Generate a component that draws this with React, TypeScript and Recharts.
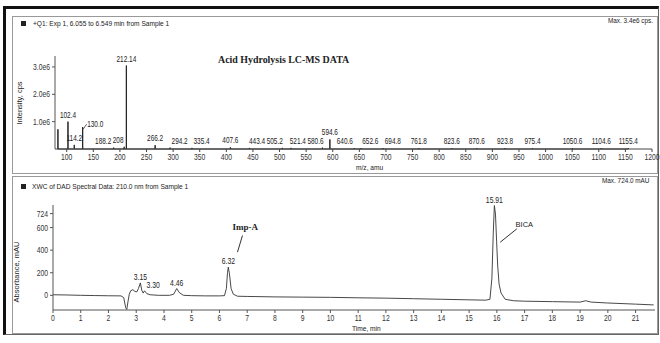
import {
  ComposedChart,
  Line,
  XAxis,
  YAxis,
  LabelList,
  ReferenceLine,
  ReferenceDot,
} from "recharts";

const SANS = "'Liberation Sans', Arial, sans-serif";
const SERIF = "'Liberation Serif', 'Times New Roman', serif";

// mass spectrum (+Q1 scan), m/z and intensity in cps
const msMz = [
  83.5, 102.4, 114.2, 130.0, 188.2, 208.0, 212.14, 266.2, 294.2, 335.4, 407.6,
  443.4, 505.2, 521.4, 580.6, 594.6, 640.6, 652.6, 694.8, 761.8, 823.6, 870.6,
  923.8, 975.4, 1050.6, 1104.6, 1155.4,
];
const msIntensity = [
  0.72e6, 1.0e6, 0.15e6, 0.8e6, 0.05e6, 0.08e6, 3.05e6, 0.14e6, 0.05e6, 0.04e6,
  0.06e6, 0.04e6, 0.04e6, 0.04e6, 0.05e6, 0.35e6, 0.03e6, 0.03e6, 0.03e6,
  0.03e6, 0.03e6, 0.03e6, 0.03e6, 0.03e6, 0.03e6, 0.03e6, 0.03e6,
];
const msPeakLabels = [
  "", "102.4", "114.2", "130.0", "188.2", "208", "212.14", "266.2", "294.2",
  "335.4", "407.6", "443.4", "505.2", "521.4", "580.6", "594.6", "640.6",
  "652.6", "694.8", "761.8", "823.6", "870.6", "923.8", "975.4", "1050.6",
  "1104.6", "1155.4",
];
const msXTicks = [
  100, 150, 200, 250, 300, 350, 400, 450, 500, 550, 600, 650, 700, 750, 800,
  850, 900, 950, 1000, 1050, 1100, 1150, 1200,
];
const msYTicks = [1e6, 2e6, 3e6];

// DAD chromatogram at 210 nm, time in min and absorbance in mAU
const lcTime = [
  0, 0.5, 1.0, 1.5, 2.0, 2.45, 2.55, 2.62, 2.66, 2.7, 2.75, 2.8, 2.88, 2.95,
  3.02, 3.08, 3.15, 3.2, 3.25, 3.3, 3.38, 3.5, 3.8, 4.2, 4.35, 4.46, 4.55, 4.7,
  5.0, 5.5, 6.0, 6.18, 6.25, 6.29, 6.32, 6.36, 6.42, 6.5, 6.65, 7.0, 8.0, 9.0,
  10.0, 11.0, 12.0, 13.0, 14.0, 15.0, 15.6, 15.75, 15.82, 15.87, 15.91, 15.95,
  15.99, 16.03, 16.08, 16.15, 16.3, 16.6, 17.0, 18.0, 19.0, 19.2, 19.4, 20.0,
  21.0, 21.65,
];
const lcAbsorbance = [
  5, 3, 0, -2, -4, -5, -20, -110, -125, -60, 10, 40, 50, 35, 30, 60, 110, 45,
  20, 40, 15, 5, 0, 0, 10, 60, 25, 0, -3, -5, -5, -3, 60, 200, 250, 190, 60,
  10, -8, -10, -14, -16, -18, -22, -25, -30, -35, -40, -43, -35, 150, 550, 795,
  720, 480, 260, 100, 20, -35, -48, -52, -56, -60, -48, -60, -68, -78, -85,
];
const lcPeakTimes = [3.15, 3.3, 4.46, 6.32, 15.91];
const lcPeakLabels = ["3.15", "3.30", "4.46", "6.32", "15.91"];
const lcXTicks = [
  0, 1, 2, 3, 4, 5, 6, 7, 8, 9, 10, 11, 12, 13, 14, 15, 16, 17, 18, 19, 20, 21,
];
const lcYTicks = [0, 200, 400, 600, 724];

// layout of the spectrum panel
const MS_DOMAIN = [78, 1200];
const MS_Y_W = 55;
const MS_RIGHT = 8;
const MS_W = 660;
const LABEL_FONT = 8.5;
const LABEL_SCALE = 0.76;

const msSticks = msMz.flatMap((mz, i) => [
  { mz, intensity: 0 },
  { mz, intensity: msIntensity[i], label: msPeakLabels[i], peak: i },
  { mz, intensity: 0 },
]);

const lcRows = lcTime.map((t, i) => {
  const p = lcPeakTimes.indexOf(t);
  return { t, abs: lcAbsorbance[i], label: p >= 0 ? lcPeakLabels[p] : undefined, peak: p };
});

// spread the small baseline labels so they don't run into each other
const isLow = (i: number) => msIntensity[i] < 0.3e6;
const textW = (s: string) =>
  [...s].reduce((w, c) => w + (c === "." ? 0.278 : 0.556), 0) * LABEL_FONT * LABEL_SCALE;
const msLabelShift: number[] = (() => {
  const pxPerAmu = (MS_W - MS_Y_W - MS_RIGHT) / (MS_DOMAIN[1] - MS_DOMAIN[0]);
  const boxes: { i: number; left: number; w: number; x: number }[] = [];
  msMz.forEach((mz, i) => {
    if (!msPeakLabels[i] || !isLow(i)) return;
    const x = mz * pxPerAmu;
    const w = textW(msPeakLabels[i]);
    const next = i + 1 < msMz.length ? msMz[i + 1] - mz : Infinity;
    const prev = i > 0 ? mz - msMz[i - 1] : Infinity;
    let left = x - w / 2;
    if (next < 20 && prev > 12) left = x - w - 1.5;
    else if (prev < 45 && next >= 20) left = x + 1.5;
    boxes.push({ i, left, w, x });
  });
  for (let it = 0; it < 30; it++) {
    for (let j = 1; j < boxes.length; j++) {
      const a = boxes[j - 1];
      const b = boxes[j];
      const over = a.left + a.w + 1.5 - b.left;
      if (over > 0) {
        a.left -= over / 2;
        b.left += over / 2;
      }
    }
  }
  const shift = msMz.map(() => 0);
  boxes.forEach((b) => (shift[b.i] = b.left + b.w / 2 - b.x));
  return shift;
})();

// a tall labelled peak close behind another tall labelled one gets its label on the side
const besideStick = (i: number) => {
  if (isLow(i)) return false;
  for (let k = i - 1; k >= 0; k--) {
    if (msPeakLabels[k] && !isLow(k)) return msMz[i] - msMz[k] < 40;
  }
  return false;
};

function NarrowTick({ x, y, payload, textAnchor, verticalAnchor, fmt }: any) {
  const dy = verticalAnchor === "start" ? "0.75em" : "0.35em";
  return (
    <text
      transform={`translate(${x},${y}) scale(0.8,1)`}
      textAnchor={textAnchor}
      dy={dy}
      fontSize={8.5}
      fill="#333"
      fontFamily={SANS}
    >
      {fmt ? fmt(payload.value) : payload.value}
    </text>
  );
}

const fmtE6 = (v: number) => (v / 1e6).toFixed(1) + "e6";

function MsPeakLabel(props: any) {
  const { x, y, value, index } = props;
  if (!value) return null;
  const i = msSticks[index].peak as number;
  if (besideStick(i)) {
    return (
      <g>
        <line x1={x + 0.5} y1={y + 2} x2={x + 4} y2={y - 3} stroke="#333" strokeWidth={0.8} />
        <text
          transform={`translate(${x + 4.5},${y}) scale(${LABEL_SCALE},1)`}
          fontSize={LABEL_FONT}
          fill="#222"
          fontFamily={SANS}
        >
          {value}
        </text>
      </g>
    );
  }
  return (
    <text
      transform={`translate(${x + msLabelShift[i]},${y - 4}) scale(${LABEL_SCALE},1)`}
      textAnchor="middle"
      fontSize={LABEL_FONT}
      fill="#222"
      fontFamily={SANS}
    >
      {value}
    </text>
  );
}

function LcPeakLabel(props: any) {
  const { x, y, value, index } = props;
  if (!value) return null;
  const p = lcRows[index].peak;
  const close = p > 0 && lcPeakTimes[p] - lcPeakTimes[p - 1] < 0.3;
  return (
    <text
      transform={`translate(${x + (close ? 2 : 0)},${y - 3}) scale(0.8,1)`}
      textAnchor={close ? "start" : "middle"}
      fontSize={8.5}
      fill="#222"
      fontFamily={SANS}
    >
      {value}
    </text>
  );
}

const small: React.CSSProperties = {
  position: "absolute",
  fontFamily: SANS,
  fontSize: 7.5,
  color: "#222",
  whiteSpace: "nowrap",
  transformOrigin: "left center",
  lineHeight: 1,
};

export default function App() {
  return (
    <div style={{ position: "relative", width: 660, height: 343, background: "#fff", overflow: "hidden" }}>
      <style>{"body{margin:0}"}</style>
      {/* page frame */}
      <div
        style={{
          position: "absolute",
          left: 3,
          top: 6,
          width: 652,
          height: 325,
          borderTop: "3px solid #111",
          borderLeft: "3px solid #111",
          borderRight: "1px solid #666",
          borderBottom: "1px solid #666",
        }}
      />
      <div style={{ position: "absolute", left: 12, top: 16, width: 644, height: 156, border: "1px solid #999" }} />
      <div style={{ position: "absolute", left: 12, top: 176, width: 644, height: 156, border: "1px solid #999" }} />

      {/* mass spectrum */}
      <div style={{ position: "absolute", left: 0, top: 0 }}>
        <ComposedChart
          width={MS_W}
          height={175}
          data={msSticks}
          margin={{ top: 56, right: MS_RIGHT, bottom: 10, left: 0 }}
        >
          <XAxis
            dataKey="mz"
            type="number"
            domain={MS_DOMAIN}
            ticks={msXTicks}
            interval={0}
            height={16}
            tickSize={3}
            stroke="#444"
            tick={(p: any) => <NarrowTick {...p} />}
          />
          <YAxis
            type="number"
            domain={[0, 3.4e6]}
            ticks={msYTicks}
            width={MS_Y_W}
            tickSize={3}
            stroke="#555"
            tick={(p: any) => <NarrowTick {...p} fmt={fmtE6} />}
          />
          <Line
            dataKey="intensity"
            type="linear"
            stroke="#222"
            strokeWidth={1}
            dot={false}
            isAnimationActive={false}
          >
            <LabelList dataKey="label" content={MsPeakLabel} />
          </Line>
        </ComposedChart>
      </div>

      {/* chromatogram */}
      <div style={{ position: "absolute", left: 0, top: 170 }}>
        <ComposedChart width={660} height={165} data={lcRows} margin={{ top: 35, right: 5, bottom: 9, left: 0 }}>
          <XAxis
            dataKey="t"
            type="number"
            domain={[0, 21.7]}
            ticks={lcXTicks}
            interval={0}
            height={16}
            tickSize={3}
            stroke="#555"
            tick={(p: any) => <NarrowTick {...p} />}
          />
          <YAxis
            type="number"
            domain={[-130, 800]}
            ticks={lcYTicks}
            interval={0}
            width={53}
            tickSize={3}
            stroke="#555"
            tick={(p: any) => <NarrowTick {...p} />}
          />
          <ReferenceLine segment={[{ x: 6.83, y: 530 }, { x: 6.65, y: 382 }]} stroke="#333" />
          <ReferenceLine segment={[{ x: 16.12, y: 470 }, { x: 16.72, y: 589 }]} stroke="#333" />
          <ReferenceDot
            x={6.93}
            y={605}
            r={0}
            stroke="none"
            label={{ value: "Imp-A", position: "center", fontSize: 9, fontFamily: SERIF, fontWeight: 700, fill: "#222" }}
          />
          <ReferenceDot
            x={16.99}
            y={627}
            r={0}
            stroke="none"
            label={{ value: "BICA", position: "center", fontSize: 7.5, fontFamily: SANS, fill: "#222" }}
          />
          <Line
            dataKey="abs"
            type="linear"
            stroke="#333"
            strokeWidth={0.9}
            dot={false}
            isAnimationActive={false}
          >
            <LabelList dataKey="label" content={LcPeakLabel} />
          </Line>
        </ComposedChart>
      </div>

      {/* texts */}
      <div style={{ position: "absolute", left: 21, top: 21, width: 5, height: 5, background: "#222" }} />
      <div style={{ ...small, left: 33, top: 20, transform: "scaleX(0.88)" }}>
        +Q1: Exp 1, 6.055 to 6.549 min from Sample 1
      </div>
      <div style={{ ...small, left: 608, top: 17, transform: "scaleX(0.85)" }}>Max. 3.4e6 cps.</div>
      <div
        style={{
          position: "absolute",
          left: 218,
          top: 54,
          fontFamily: SERIF,
          fontWeight: 700,
          fontSize: 11,
          color: "#222",
          whiteSpace: "nowrap",
          lineHeight: 1,
          transform: "scaleX(0.9)",
          transformOrigin: "left center",
        }}
      >
        Acid Hydrolysis LC-MS DATA
      </div>
      <div
        style={{
          ...small,
          left: 20,
          top: 103,
          transformOrigin: "center center",
          transform: "translate(-50%,-50%) rotate(-90deg)",
        }}
      >
        Intensity, cps
      </div>
      <div style={{ ...small, left: 356, top: 164, transform: "scaleX(0.88)" }}>m/z, amu</div>

      <div style={{ position: "absolute", left: 21, top: 184, width: 5, height: 5, background: "#222" }} />
      <div style={{ ...small, left: 32, top: 183, transform: "scaleX(0.88)" }}>
        XWC of DAD Spectral Data: 210.0 nm from Sample 1
      </div>
      <div style={{ ...small, left: 602, top: 177, transform: "scaleX(0.85)" }}>Max. 724.0 mAU</div>
      <div
        style={{
          ...small,
          left: 17,
          top: 272,
          transformOrigin: "center center",
          transform: "translate(-50%,-50%) rotate(-90deg)",
        }}
      >
        Absorbance, mAU
      </div>
      <div style={{ ...small, left: 352, top: 325, transform: "scaleX(0.88)" }}>Time, min</div>
    </div>
  );
}
